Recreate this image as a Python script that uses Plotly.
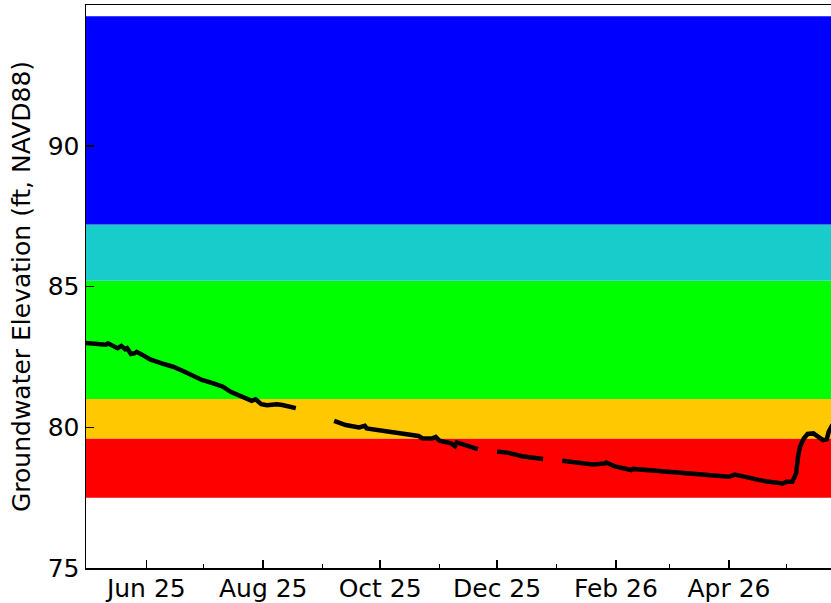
import plotly.graph_objects as go

# ---- data ----
dates = [
    "2025-04-30", "2025-05-06", "2025-05-11", "2025-05-12", "2025-05-14", "2025-05-17",
    "2025-05-19", "2025-05-21", "2025-05-22", "2025-05-24", "2025-05-26", "2025-05-27",
    "2025-05-30", "2025-06-03", "2025-06-09", "2025-06-15", "2025-06-21", "2025-06-26",
    "2025-06-30", "2025-07-06", "2025-07-11", "2025-07-15", "2025-07-20", "2025-07-26",
    "2025-07-28", "2025-07-31", "2025-08-03", "2025-08-08", "2025-08-11", "2025-08-14",
    "2025-08-18",
    "2025-08-28",
    "2025-09-07", "2025-09-13", "2025-09-20", "2025-09-23", "2025-09-24", "2025-10-01",
    "2025-10-09", "2025-10-16", "2025-10-21", "2025-10-23", "2025-10-28", "2025-10-30",
    "2025-11-01", "2025-11-07", "2025-11-09", "2025-11-10", "2025-11-15", "2025-11-21",
    "2025-11-26",
    "2025-12-01", "2025-12-07", "2025-12-14", "2025-12-25",
    "2025-12-30",
    "2026-01-04", "2026-01-13", "2026-01-20", "2026-01-26", "2026-01-27", "2026-01-31",
    "2026-02-07", "2026-02-09", "2026-02-10", "2026-02-24", "2026-03-14", "2026-04-01",
    "2026-04-04", "2026-04-11", "2026-04-20", "2026-04-29", "2026-05-01", "2026-05-04",
    "2026-05-06", "2026-05-07", "2026-05-08", "2026-05-10", "2026-05-12", "2026-05-15",
    "2026-05-17", "2026-05-20", "2026-05-22", "2026-05-23", "2026-05-25",
]
elevation = [
    83.00, 82.95, 82.93, 82.98, 82.92, 82.81,
    82.89, 82.77, 82.81, 82.60, 82.63, 82.68,
    82.57, 82.41, 82.27, 82.15, 81.97, 81.79,
    81.68, 81.56, 81.44, 81.26, 81.12, 80.94,
    80.99, 80.82, 80.78, 80.82, 80.79, 80.75,
    80.68,
    None,
    80.23, 80.08, 79.99, 80.05, 79.96, 79.90,
    79.82, 79.76, 79.69, 79.61, 79.60, 79.66,
    79.52, 79.43, 79.33, 79.46, 79.34, 79.22,
    None,
    79.14, 79.09, 78.97, 78.87,
    None,
    78.81, 78.75, 78.68, 78.71, 78.75, 78.62,
    78.52, 78.48, 78.52, 78.45, 78.36, 78.24,
    78.32, 78.22, 78.08, 78.00, 78.06, 78.06,
    78.36, 78.95, 79.30, 79.60, 79.76, 79.78,
    79.69, 79.54, 79.57, 79.84, 80.10,
]

band_lower = [77.5, 79.6, 81.0, 85.2, 87.2]
band_upper = [79.6, 81.0, 85.2, 87.2, 94.6]
band_colors = ["#ff0000", "#ffc800", "#00ff00", "#19cccc", "#0000ff"]

x_major_vals = ["2025-06-01", "2025-08-01", "2025-10-01", "2025-12-01", "2026-02-01", "2026-04-01"]
x_major_text = ["Jun 25", "Aug 25", "Oct 25", "Dec 25", "Feb 26", "Apr 26"]
x_minor_vals = ["2025-05-01", "2025-07-01", "2025-09-01", "2025-11-01", "2026-01-01", "2026-03-01", "2026-05-01"]
y_tick_vals = [75, 80, 85, 90]
y_range = [75, 95]
x_range = ["2025-04-30 13:00", "2026-05-24 05:00"]

FONT = "DejaVu Sans"

fig = go.Figure()

shapes = []
for lo, hi, c in zip(band_lower, band_upper, band_colors):
    shapes.append(dict(type="rect", xref="paper", yref="y", x0=0, x1=1, y0=lo, y1=hi,
                       fillcolor=c, line=dict(width=0), layer="below"))

fig.add_trace(go.Scatter(x=dates, y=elevation, mode="lines",
                         line=dict(color="black", width=4.5), connectgaps=False,
                         showlegend=False, hoverinfo="skip"))

fig.update_layout(
    width=831, height=603,
    margin=dict(l=86, r=0, t=5, b=35, autoexpand=False),
    paper_bgcolor="white", plot_bgcolor="white",
    font=dict(family=FONT, size=25, color="black"),
    shapes=shapes,
    showlegend=False,
    xaxis=dict(
        type="date", range=x_range,
        tickmode="array", tickvals=x_major_vals, ticktext=x_major_text,
        ticks="inside", ticklen=8, tickwidth=1.5, tickcolor="black",
        minor=dict(tickmode="array", tickvals=x_minor_vals, ticks="inside",
                   ticklen=4, tickwidth=1.2, tickcolor="black", showgrid=False),
        showline=True, linecolor="black", linewidth=1.5, mirror=True,
        showgrid=False, zeroline=False, automargin=False,
        ticklabelstandoff=-3,
        tickfont=dict(family=FONT, size=25, color="black"),
    ),
    yaxis=dict(
        range=y_range, tickmode="array", tickvals=y_tick_vals,
        ticks="inside", ticklen=8, tickwidth=1.5, tickcolor="black",
        showline=True, linecolor="black", linewidth=1.5, mirror=False,
        showgrid=False, zeroline=False, automargin=False,
        tickfont=dict(family=FONT, size=25, color="black"),
        title=dict(text="Groundwater Elevation (ft, NAVD88)",
                   font=dict(family=FONT, size=25, color="black"), standoff=10),
    ),
)

fig.write_html("out.html", config={"displayModeBar": False, "staticPlot": True},
               post_script="document.body.style.margin='0';document.body.style.overflow='hidden';")
